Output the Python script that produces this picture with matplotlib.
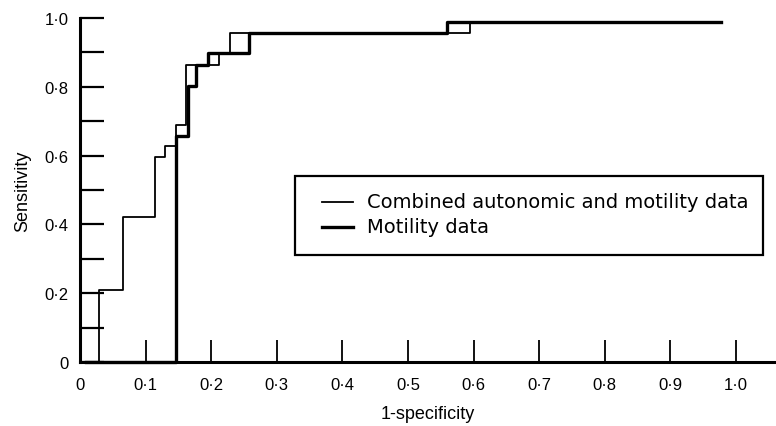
import matplotlib
matplotlib.use("Agg")
import matplotlib.pyplot as plt
from matplotlib.ticker import MultipleLocator, FixedLocator
from matplotlib.patches import Rectangle
from matplotlib.lines import Line2D

plt.rcParams['font.family'] = ['Liberation Sans', 'DejaVu Sans']

# ROC steps (steps-post)
combined_x = [0, 0.029, 0.065, 0.115, 0.130, 0.146, 0.162, 0.212, 0.229, 0.595, 0.977]
combined_y = [0, 0.21, 0.42, 0.596, 0.629, 0.689, 0.863, 0.897, 0.955, 0.987, 0.987]

motility_x = [0.01, 0.146, 0.164, 0.177, 0.195, 0.257, 0.559, 0.977]
motility_y = [0, 0.658, 0.803, 0.863, 0.897, 0.955, 0.987, 0.987]

labels = ['Combined autonomic and motility data', 'Motility data']
widths = [1.3, 2.4]

xticks = [0.1 * i for i in range(11)]
xtick_labels = ['0'] + ['0·%d' % i for i in range(1, 10)] + ['1·0']
yticks = [0, 0.2, 0.4, 0.6, 0.8, 1.0]
ytick_labels = ['0', '0·2', '0·4', '0·6', '0·8', '1·0']

W, H = 776, 427
fig = plt.figure(figsize=(W / 100, H / 100), dpi=100)
ax = fig.add_axes([0.103, 0.150, 0.897, 0.8055])

ax.plot(combined_x, combined_y, drawstyle='steps-post', color='black', lw=widths[0],
        clip_on=False)
ax.plot(motility_x, motility_y, drawstyle='steps-post', color='black', lw=widths[1],
        clip_on=False)

ax.set_xlim(0, 1.061)
ax.set_ylim(0, 1.0)

for s in ['top', 'right']:
    ax.spines[s].set_visible(False)
for s in ['left', 'bottom']:
    ax.spines[s].set_linewidth(2.2)

ax.xaxis.set_major_locator(FixedLocator(xticks))
ax.set_xticklabels(xtick_labels)
ax.yaxis.set_major_locator(FixedLocator(yticks))
ax.set_yticklabels(ytick_labels)
ax.yaxis.set_minor_locator(MultipleLocator(0.1))

ax.tick_params(axis='x', direction='in', length=16, width=1.3, pad=11, labelsize=12)
ax.tick_params(axis='y', which='both', direction='in', length=17, width=1.6, pad=8, labelsize=12)

ax.set_xlabel('1-specificity', fontsize=13, labelpad=9)
ax.set_ylabel('Sensitivity', fontsize=13, labelpad=10)

# legend box drawn by hand, placed in pixel terms of the figure
def fx(px):
    return px / W

def fy(py):
    return 1 - py / H

fig.add_artist(Rectangle((fx(295), fy(256)), fx(763) - fx(295), fy(177) - fy(256),
                         transform=fig.transFigure, fill=False, edgecolor='black', lw=1.6))
for i, (lab, lw) in enumerate(zip(labels, widths)):
    yy = fy(203 + 25 * i)
    fig.add_artist(Line2D([fx(322), fx(353)], [yy, yy], transform=fig.transFigure,
                          color='black', lw=lw))
    fig.text(fx(367), yy, lab, fontsize=14, family=['DejaVu Sans'], va='center', ha='left')

fig.savefig('out.png', dpi=100)
